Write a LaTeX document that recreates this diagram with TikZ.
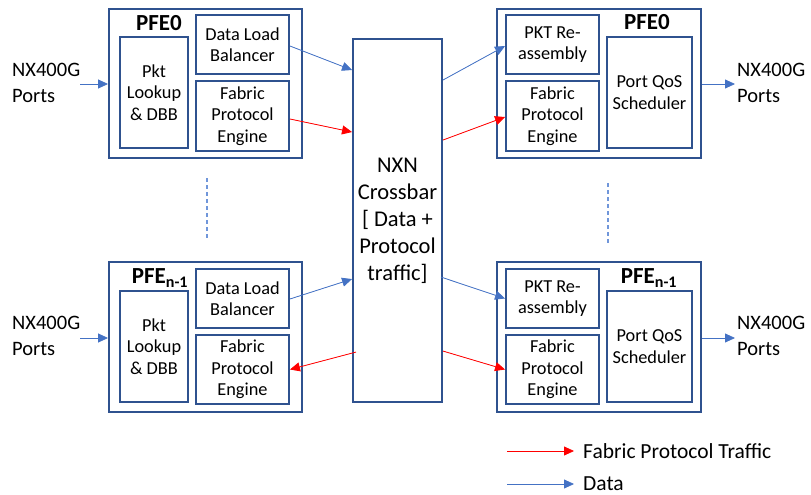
\documentclass[tikz,border=0pt]{standalone}
\usepackage{fontspec}
\setmainfont{Carlito}
\usetikzlibrary{arrows.meta}
\definecolor{boxblue}{HTML}{2F528F}
\definecolor{arrblue}{HTML}{4472C4}
\definecolor{dashblue}{HTML}{7096DA}
\tikzset{
  outerbox/.style={draw=boxblue, line width=1.9pt, inner sep=0pt, anchor=center},
  innerbox/.style={draw=boxblue, line width=1.9pt, inner sep=0pt, align=center, anchor=center,
     font=\fontsize{18.3}{21.5}\selectfont},
  xbarbox/.style={draw=boxblue, line width=1.9pt, inner sep=0pt, align=center,
     font=\fontsize{22.5}{27}\selectfont},
  bigtext/.style={align=left, anchor=west, inner sep=0pt, font=\fontsize{20.5}{26}\selectfont},
  pfelabel/.style={inner sep=0pt, font=\fontsize{23}{26}\selectfont\bfseries},
  legtext/.style={anchor=west, inner sep=0pt, font=\fontsize{21.5}{24}\selectfont},
  datarrow/.style={draw=arrblue, line width=0.8pt, -{Triangle[length=10pt,width=9pt]}, fill=arrblue},
  fabarrow/.style={draw=red, line width=0.8pt, -{Triangle[length=10pt,width=9pt]}, fill=red},
  dotline/.style={draw=dashblue, line width=1.4pt, dash pattern=on 4pt off 3pt}
}
\begin{document}
\begin{tikzpicture}[x=1pt,y=-1pt]
\useasboundingbox (0,0) rectangle (811,495);

% ---- top left PFE0
\node[outerbox, minimum width=193, minimum height=149] (oA) at (205.5,83.5) {};
\node[innerbox, minimum width=68, minimum height=111] (pktA) at (154,92.5) {Pkt\\Lookup\\\& DBB};
\node[innerbox, minimum width=93, minimum height=59] (dlbA) at (242.5,44.5) {Data Load\\Balancer};
\node[innerbox, minimum width=93, minimum height=70] (fpeA) at (242.5,116) {Fabric\\Protocol\\Engine};
\node[pfelabel] (lA) at (159,23) {PFE0};

% ---- bottom left PFE n-1
\node[outerbox, minimum width=193, minimum height=150] (oC) at (205.5,337) {};
\node[innerbox, minimum width=68, minimum height=111] (pktC) at (154,346.5) {Pkt\\Lookup\\\& DBB};
\node[innerbox, minimum width=93, minimum height=59] (dlbC) at (242.5,298.5) {Data Load\\Balancer};
\node[innerbox, minimum width=93, minimum height=69] (fpeC) at (242.5,369.5) {Fabric\\Protocol\\Engine};
\node[pfelabel] (lC) at (160,278) {PFE\textsubscript{n-1}};

% ---- top right PFE0
\node[outerbox, minimum width=204, minimum height=149] (oB) at (599,83.5) {};
\node[innerbox, minimum width=93, minimum height=59] (reB) at (552.5,44.5) {PKT Re-\\assembly};
\node[innerbox, minimum width=93, minimum height=70] (fpeB) at (552.5,116) {Fabric\\Protocol\\Engine};
\node[innerbox, minimum width=85, minimum height=111] (qosB) at (649.5,92.5) {Port QoS\\Scheduler};
\node[pfelabel] (lB) at (647,22) {PFE0};

% ---- bottom right PFE n-1
\node[outerbox, minimum width=204, minimum height=150] (oD) at (599,337) {};
\node[innerbox, minimum width=93, minimum height=59] (reD) at (552.5,298.5) {PKT Re-\\assembly};
\node[innerbox, minimum width=93, minimum height=69] (fpeD) at (552.5,369.5) {Fabric\\Protocol\\Engine};
\node[innerbox, minimum width=85, minimum height=111] (qosD) at (649.5,346.5) {Port QoS\\Scheduler};
\node[pfelabel] (lD) at (649,278) {PFE\textsubscript{n-1}};

% ---- crossbar
\node[xbarbox, minimum width=89, minimum height=363] (xbar) at (397.5,220.5) {NXN\\Crossbar\\{[} Data +\\Protocol\\traffic{]}};

% ---- port labels
\node[bigtext] (inA) at (12,83) {NX400G\\Ports};
\node[bigtext] (inC) at (12,336) {NX400G\\Ports};
\node[bigtext] (outB) at (737,83) {NX400G\\Ports};
\node[bigtext] (outD) at (737,336) {NX400G\\Ports};

\coordinate (inAe) at (80,84);
\coordinate (inCe) at (80,338);
\coordinate (outBe) at (735,84);
\coordinate (outDe) at (735,338);

% ---- port arrows
\draw[datarrow] (inAe) -- (oA.west |- inAe);
\draw[datarrow] (inCe) -- (oC.west |- inCe);
\draw[datarrow] (oB.east |- outBe) -- (outBe);
\draw[datarrow] (oD.east |- outDe) -- (outDe);

% ---- crossbar connections
\draw[datarrow] ([yshift=-1.5pt]dlbA.east) -- ([yshift=-32pt]xbar.north west);
\draw[fabarrow] ([yshift=-3pt]fpeA.east) -- ([yshift=-94pt]xbar.north west);
\draw[datarrow] ([yshift=-42pt]xbar.north east) -- ([yshift=-1.5pt]reB.west);
\draw[fabarrow] ([yshift=-102pt]xbar.north east) -- ([yshift=-1pt]fpeB.west);
\draw[datarrow] ([yshift=-0.5pt]dlbC.east) -- ([yshift=-241pt]xbar.north west);
\draw[fabarrow] ([xshift=4pt,yshift=-314pt]xbar.north west) -- (fpeC.east);
\draw[datarrow] ([xshift=-2pt,yshift=-239pt]xbar.north east) -- (reD.west);
\draw[fabarrow] ([yshift=-313pt]xbar.north east) -- (fpeD.west);

% ---- dashed continuation lines
\coordinate (dA1) at (207,178);
\coordinate (dA2) at (207,238);
\coordinate (dB1) at (608,183);
\coordinate (dB2) at (608,243);
\draw[dotline] (dA1) -- (dA2);
\draw[dotline] (dB1) -- (dB2);

% ---- legend
\coordinate (lg1a) at (507,451);
\coordinate (lg1b) at (574,451);
\coordinate (lg2a) at (507,484);
\coordinate (lg2b) at (574,484);
\draw[fabarrow] (lg1a) -- (lg1b);
\draw[datarrow] (lg2a) -- (lg2b);
\node[legtext] (lt1) at (583,451) {Fabric Protocol Traffic};
\node[legtext] (lt2) at (583,484) {Data};
\end{tikzpicture}
\end{document}
